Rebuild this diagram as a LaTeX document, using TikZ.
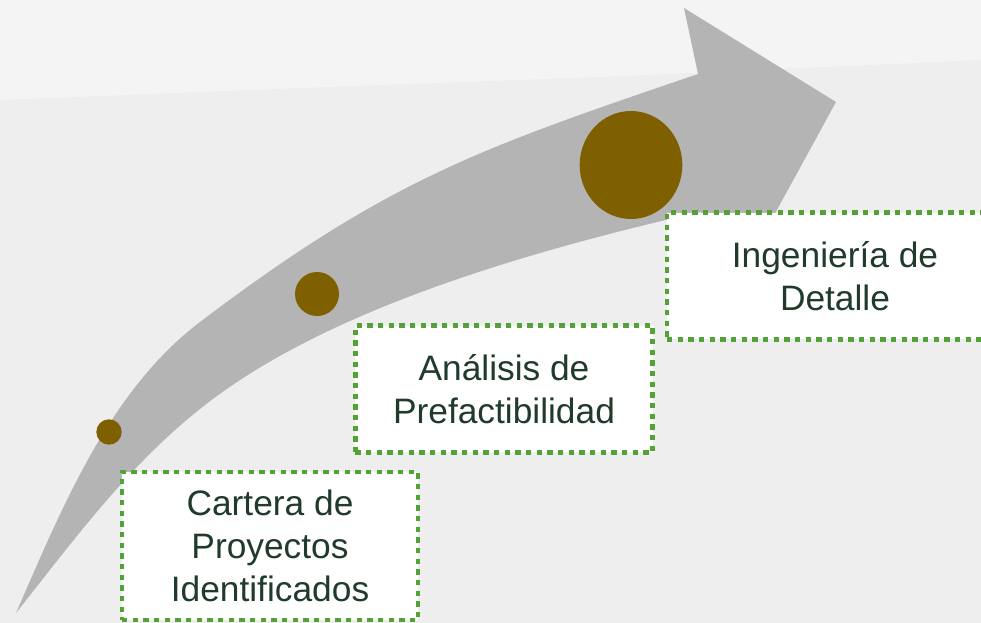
\documentclass[tikz,border=0pt]{standalone}
\usepackage{fontspec}
\setmainfont{Liberation Sans}
\usepackage{xcolor}
\usetikzlibrary{shapes.geometric}
\definecolor{fondo}{HTML}{EEEEEE}
\definecolor{cielo}{HTML}{F4F4F4}
\definecolor{flecha}{HTML}{B4B4B4}
\definecolor{cafe}{HTML}{7F6000}
\definecolor{verde}{HTML}{52A236}
\definecolor{texto}{HTML}{203A2C}

\begin{document}
\begin{tikzpicture}[x=0.75pt,y=-0.75pt,
   etapa/.style={rectangle,draw=verde,fill=white,line width=3.4pt,
     dash pattern=on 4pt off 4pt,text=texto,align=center,
     font=\fontsize{26.5}{32}\selectfont,inner sep=0pt},
   hito/.style={ellipse,fill=cafe,inner sep=0pt}]

  \useasboundingbox[fill=fondo] (0,0) rectangle (981,623);
  \fill[cielo] (0,0) -- (981,0) -- (981,60) -- (600,77) -- (300,88) -- (0,100) -- cycle;

  \coordinate (cola) at (16,613);
  \coordinate (punta) at (836,102);
  \fill[flecha] (cola) .. controls (62,508) and (109,391) .. (200,322)
     .. controls (390,178) and (484,147) .. (698,74)
     -- (684,8) -- (punta) -- (755,250) -- (700,212)
     .. controls (525,252) and (322,311) .. (200,409)
     .. controls (128,466) and (73,541) .. (cola) -- cycle;

  \node[hito,minimum size=19pt] (h1) at (109,432) {};
  \node[hito,minimum size=33pt] (h2) at (317,294) {};
  \node[hito,minimum width=77pt,minimum height=81pt] (h3) at (631,165) {};

  \node[etapa,minimum width=222pt,minimum height=111pt] (cartera) at (270,546)
     {Cartera de\\Proyectos\\Identificados};
  \node[etapa,minimum width=223pt,minimum height=95pt] (analisis) at (504,389)
     {Análisis de\\Prefactibilidad};
  \node[etapa,minimum width=252pt,minimum height=95pt] (ingenieria) at (835,276)
     {Ingeniería de\\Detalle};
\end{tikzpicture}
\end{document}
